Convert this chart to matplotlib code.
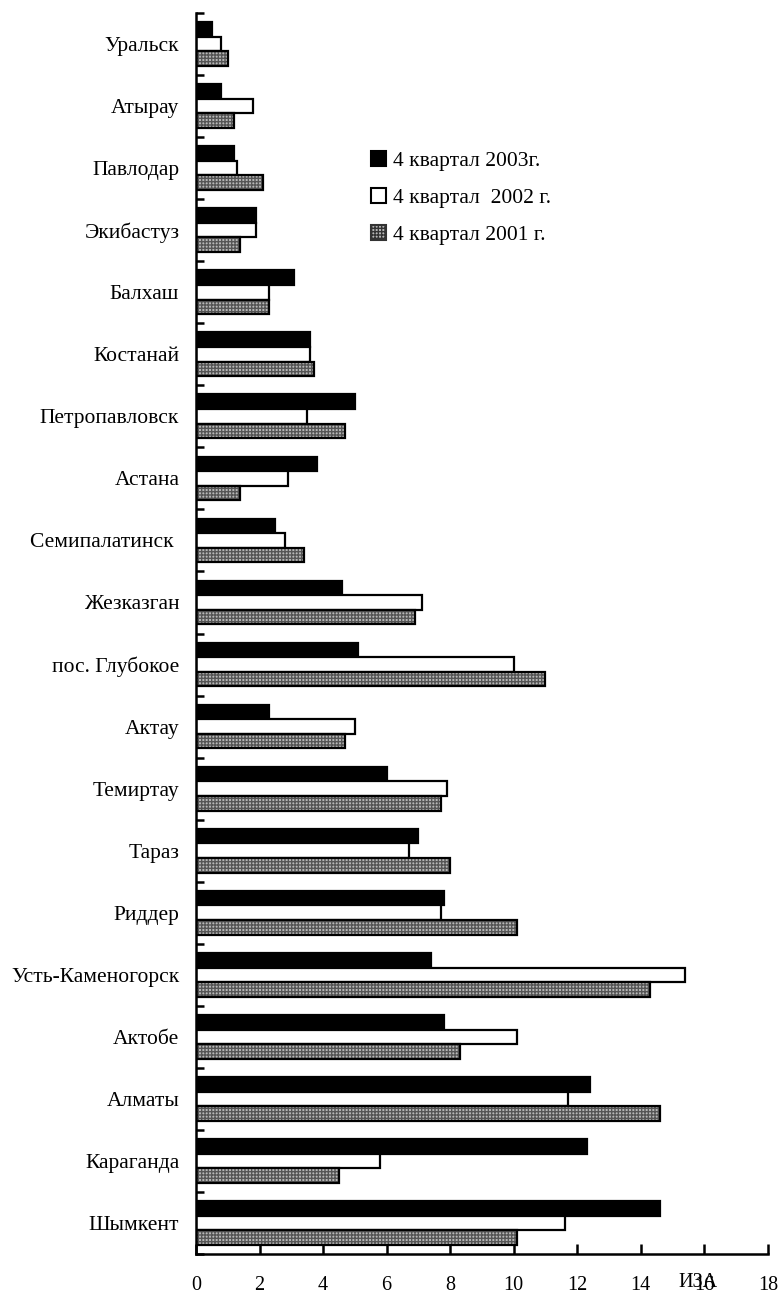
import numpy as np
import matplotlib.pyplot as plt
from matplotlib.patches import Patch

plt.rcParams['font.family'] = ['Liberation Serif', 'DejaVu Serif']

cities = ["Уральск", "Атырау", "Павлодар", "Экибастуз", "Балхаш", "Костанай",
          "Петропавловск", "Астана", "Семипалатинск ", "Жезказган", "пос. Глубокое",
          "Актау", "Темиртау", "Тараз", "Риддер", "Усть-Каменогорск", "Актобе",
          "Алматы", "Караганда", "Шымкент"]
q4_2003 = [0.5, 0.8, 1.2, 1.9, 3.1, 3.6, 5.0, 3.8, 2.5, 4.6, 5.1, 2.3, 6.0, 7.0,
           7.8, 7.4, 7.8, 12.4, 12.3, 14.6]
q4_2002 = [0.8, 1.8, 1.3, 1.9, 2.3, 3.6, 3.5, 2.9, 2.8, 7.1, 10.0, 5.0, 7.9, 6.7,
           7.7, 15.4, 10.1, 11.7, 5.8, 11.6]
q4_2001 = [1.0, 1.2, 2.1, 1.4, 2.3, 3.7, 4.7, 1.4, 3.4, 6.9, 11.0, 4.7, 7.7, 8.0,
           10.1, 14.3, 8.3, 14.6, 4.5, 10.1]
labels = ["4 квартал 2003г.", "4 квартал  2002 г.", "4 квартал 2001 г."]
xticks = [0, 2, 4, 6, 8, 10, 12, 14, 16, 18]

fig = plt.figure(figsize=(7.82, 12.99), dpi=100)
ax = fig.add_axes([0.2506, 0.0346, 0.7314, 0.9554])

y = np.arange(len(cities))
h = 0.235
lw = 1.6
ax.barh(y - h, q4_2003, height=h, color="black", edgecolor="black", linewidth=lw)
ax.barh(y, q4_2002, height=h, color="white", edgecolor="black", linewidth=lw)
# dotted grey fill, then the black outline on top
ax.barh(y + h, q4_2001, height=h, color="#b8b8b8", edgecolor="#555555",
        hatch="+++++", linewidth=0)
ax.barh(y + h, q4_2001, height=h, fill=False, edgecolor="black", linewidth=lw)

ax.set_ylim(len(cities) - 0.5, -0.5)
ax.set_yticks(y)
ax.set_yticklabels(cities, fontsize=15.5)
ax.set_yticks(np.arange(len(cities) + 1) - 0.5, minor=True)
ax.tick_params(axis="y", which="major", length=0, pad=12)
ax.tick_params(axis="y", which="minor", direction="in", length=6, width=1.8)

ax.set_xlim(0, 18)
ax.set_xticks(xticks)
ax.tick_params(axis="x", direction="in", length=7, width=1.8, pad=16, labelsize=14.5)

for side in ("top", "right"):
    ax.spines[side].set_visible(False)
for side in ("left", "bottom"):
    ax.spines[side].set_linewidth(1.8)

ax.text(15.8, -0.015, "ИЗА", transform=ax.get_xaxis_transform(),
        ha="center", va="top", fontsize=14.5)

handles = [Patch(facecolor="black", edgecolor="black", linewidth=1.5),
           Patch(facecolor="white", edgecolor="black", linewidth=1.5),
           Patch(facecolor="#b8b8b8", edgecolor="#333333", hatch="+++++", linewidth=1.5)]
fig.legend(handles, labels, loc="upper left", bbox_to_anchor=(0.474, 0.884),
           frameon=False, fontsize=15.5, handlelength=0.72, handleheight=0.72,
           handletextpad=0.3, labelspacing=0.78, borderpad=0, borderaxespad=0)

fig.savefig("out.png", dpi=100)
